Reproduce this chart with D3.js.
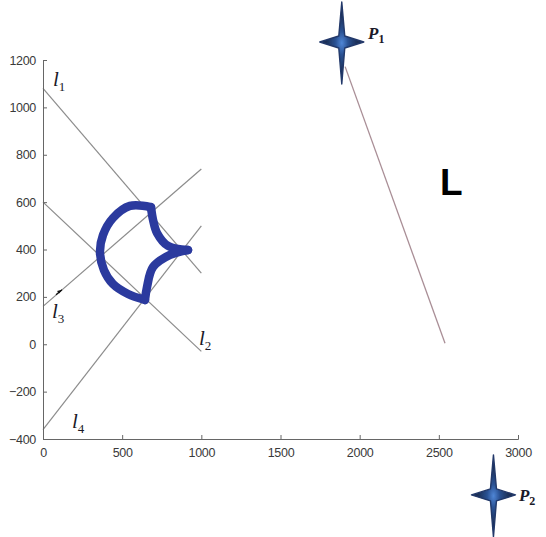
<!DOCTYPE html>
<html>
<head>
<meta charset="utf-8">
<script src="https://cdn.jsdelivr.net/npm/d3@7"></script>
<style>
    body { margin: 0; background: #fff; }
    svg { display: block; }
</style>
</head>
<body>
<svg id="chart" width="546" height="537"></svg>
<script>
'use strict';

/* global d3 */

var xTicks = [0, 500, 1000, 1500, 2000, 2500, 3000];
var yTicks = [-400, -200, 0, 200, 400, 600, 800, 1000, 1200];

// straight lines l1..l4, y value at x = 0 and x = 1000
var guideNames = ["1", "2", "3", "4"];
var guideX = [0, 1000];
var guideStartY = [1080, 600, 160, -360];
var guideEndY = [300, -30, 740, 500];

// the closed curve, in three arcs (corner to corner)
var leftArc = [[682, 579], [549, 584], [442, 533], [379, 461], [360, 389],
    [385, 313], [442, 254], [537, 212], [644, 187]];
var upperRightArc = [[682, 579], [695, 525], [720, 470], [790, 415], [916, 398]];
var lowerRightArc = [[916, 398], [802, 377], [695, 326], [657, 242], [644, 187]];

// segment L between P1 and the x axis
var segmentL = [[1908, 1172], [2539, 4]];

// stars P1, P2
var starNames = ["1", "2"];
var starX = [1887, 2845];
var starY = [1276, -636];

function Chart(svgSelector) {
    var svg, x, y;

    function drawAxes() {
        var axisColor = "#666";

        var xAxis = d3.axisBottom(x)
            .tickValues(xTicks)
            .tickSize(-4)
            .tickPadding(9)
            .tickFormat(d3.format("d"));
        var gx = svg.append("g")
            .attr("transform", "translate(0," + y(-400) + ")")
            .call(xAxis);

        var yAxis = d3.axisLeft(y)
            .tickValues(yTicks)
            .tickSize(-4)
            .tickPadding(7)
            .tickFormat(d3.format("d"));
        var gy = svg.append("g")
            .attr("transform", "translate(" + x(0) + ",0)")
            .call(yAxis);

        [gx, gy].forEach(function (g) {
            g.select(".domain").attr("stroke", axisColor);
            g.selectAll(".tick line").attr("stroke", axisColor);
            g.selectAll(".tick text")
                .attr("fill", "#3a3a3a")
                .style("font-family", "Liberation Sans, Arial, sans-serif")
                .style("font-size", "12.5px")
                .style("letter-spacing", "-0.3px");
        });
    }

    function drawGuides() {
        var guides = guideNames.map(function (n, i) {
            return [[guideX[0], guideStartY[i]], [guideX[1], guideEndY[i]]];
        });
        var line = d3.line()
            .x(function (d) { return x(d[0]); })
            .y(function (d) { return y(d[1]); });

        svg.append("g").selectAll("path")
            .data(guides)
            .enter()
            .append("path")
            .attr("d", line)
            .attr("fill", "none")
            .attr("stroke", "#8c8c8c")
            .attr("stroke-width", 1.2);

        svg.append("path")
            .attr("d", line(segmentL))
            .attr("fill", "none")
            .attr("stroke", "#a98e96")
            .attr("stroke-width", 1.3);
    }

    function drawCurve() {
        var arcLine = d3.line()
            .x(function (d) { return x(d[0]); })
            .y(function (d) { return y(d[1]); })
            .curve(d3.curveCatmullRom.alpha(0.5));

        svg.append("g").selectAll("path")
            .data([leftArc, upperRightArc, lowerRightArc])
            .enter()
            .append("path")
            .attr("d", arcLine)
            .attr("fill", "none")
            .attr("stroke", "#2b3a9e")
            .attr("stroke-width", 8.5)
            .attr("stroke-linecap", "round")
            .attr("stroke-linejoin", "round");
    }

    function drawStars() {
        var defs = svg.append("defs");
        var grad = defs.append("radialGradient")
            .attr("id", "starFill")
            .attr("r", "35%");
        grad.append("stop").attr("offset", "0%").attr("stop-color", "#4f86d6");
        grad.append("stop").attr("offset", "40%").attr("stop-color", "#2a5294");
        grad.append("stop").attr("offset", "100%").attr("stop-color", "#1c2f56");

        defs.append("filter")
            .attr("id", "soft")
            .append("feGaussianBlur")
            .attr("stdDeviation", 0.7);

        var starPath = "M0,-40 L3,-6 L22,0 L3,6 L0,42 L-3,6 L-22,0 L-3,-6 Z";

        svg.append("g").selectAll("path")
            .data(starNames)
            .enter()
            .append("path")
            .attr("d", starPath)
            .attr("transform", function (d, i) {
                return "translate(" + x(starX[i]) + "," + y(starY[i]) + ")";
            })
            .attr("fill", "url(#starFill)")
            .attr("stroke", "#22396a")
            .attr("stroke-width", 1.4)
            .attr("stroke-linejoin", "round")
            .attr("filter", "url(#soft)");
    }

    function subscriptLabel(px, py, main, sub, bold) {
        var t = svg.append("text")
            .attr("x", x(px))
            .attr("y", y(py))
            .attr("fill", "#1a1a28")
            .style("font-family", "Liberation Serif, Times New Roman, serif")
            .style("font-style", "italic")
            .style("font-weight", bold ? "bold" : "normal");
        t.append("tspan")
            .style("font-size", bold ? "17px" : "21px")
            .text(main);
        t.append("tspan")
            .attr("dy", bold ? 4 : 5)
            .style("font-size", bold ? "12px" : "13px")
            .style("font-style", "normal")
            .text(sub);
    }

    function drawLabels() {
        var guideLabelX = [63, 985, 57, 183];
        var guideLabelY = [1090, -3, 111, -354];
        guideNames.forEach(function (n, i) {
            subscriptLabel(guideLabelX[i], guideLabelY[i], "l", n, false);
        });

        var starLabelX = [2053, 3006];
        var starLabelY = [1289, -662];
        starNames.forEach(function (n, i) {
            subscriptLabel(starLabelX[i], starLabelY[i], "P", n, true);
        });

        svg.append("text")
            .attr("x", x(2507))
            .attr("y", y(630))
            .attr("fill", "#000")
            .style("font-family", "Liberation Sans, Arial, sans-serif")
            .style("font-weight", "bold")
            .style("font-size", "37px")
            .text("L");

        // small arrow head on l3
        var ax = x(120), ay = y(230);
        svg.append("path")
            .attr("d", "M" + (ax - 6) + "," + (ay + 5) + "L" + ax + "," + ay)
            .attr("stroke", "#111")
            .attr("stroke-width", 1.2);
        svg.append("path")
            .attr("d", "M" + ax + "," + ay + "l-5,1.2l2.2,2.6z")
            .attr("fill", "#111");
    }

    function init() {
        svg = d3.select(svgSelector);
        x = d3.scaleLinear().domain([0, 3000]).range([43, 518]);
        y = d3.scaleLinear().domain([-400, 1200]).range([439, 60]);
        drawGuides();
        drawCurve();
        drawAxes();
        drawStars();
        drawLabels();
    }

    this.init = init;
}

new Chart("#chart").init();
</script>
</body>
</html>
